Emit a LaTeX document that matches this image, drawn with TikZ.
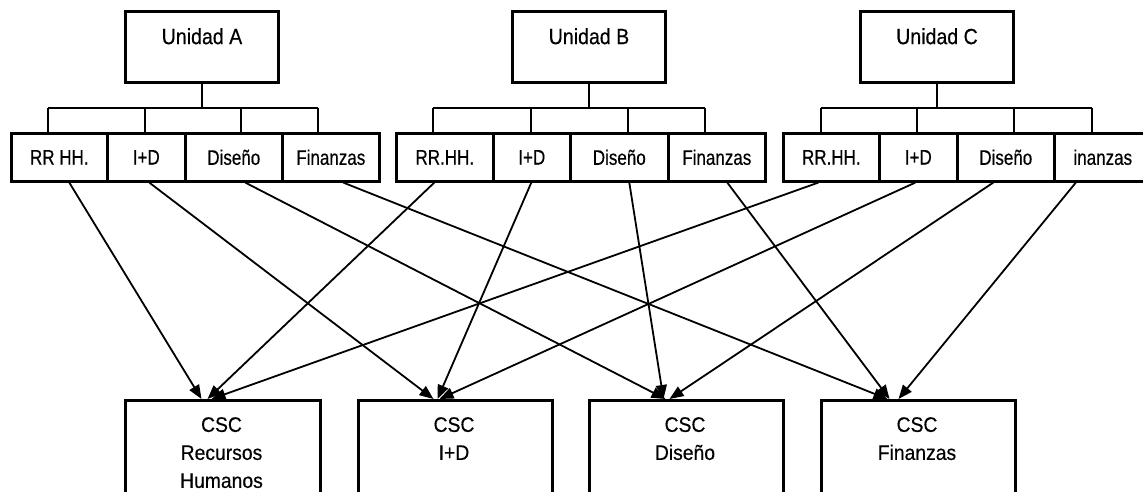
\documentclass[tikz,border=0pt]{standalone}
\usepackage{fontspec}
\setmainfont{Liberation Sans}
\newfontfamily\titlefont{Liberation Sans}[FakeStretch=0.89,FakeBold=0.4]
\newfontfamily\subfont{Liberation Sans}[FakeStretch=0.81,FakeBold=0.4]
\newfontfamily\cscfont{Liberation Sans}[FakeStretch=0.92,FakeBold=0.4]
\usetikzlibrary{arrows.meta}
\begin{document}
\begin{tikzpicture}[x=1pt,y=-1pt,
  unitbox/.style={draw, line width=3pt, minimum width=153pt, minimum height=71pt, inner sep=0},
  subbox/.style={draw, line width=2.6pt, minimum height=48pt, inner sep=0, anchor=north west,
                 font=\subfont\fontsize{21}{24}\selectfont},
  cscbox/.style={draw, line width=3pt, anchor=north west, inner sep=0, minimum height=130pt},
  lbl/.style={inner sep=0, anchor=north, align=center},
  titletext/.style={lbl, font=\titlefont\fontsize{22}{26}\selectfont},
  csctext/.style={lbl, font=\cscfont\fontsize{21}{28}\selectfont},
  tree/.style={line width=2.6pt},
  arr/.style={line width=1.8pt, -{Triangle[length=14pt,width=11pt]}}
]
\useasboundingbox (0,0) rectangle (1143,492);

% unit boxes
\node[unitbox] (uA) at (202,47.5) {};
\node[unitbox] (uB) at (589,47.5) {};
\node[unitbox] (uC) at (937,47.5) {};
\node[titletext] (tA) at (202,28) {Unidad A};
\node[titletext] (tB) at (589,28) {Unidad B};
\node[titletext] (tC) at (937,28) {Unidad C};

% sub boxes A
\node[subbox, minimum width=96pt] (a1) at (10,132) {RR HH.};
\node[subbox, minimum width=78pt] (a2) at (106,132) {I+D};
\node[subbox, minimum width=97pt] (a3) at (184,132) {Diseño};
\node[subbox, minimum width=97pt] (a4) at (281,132) {Finanzas};
% sub boxes B
\node[subbox, minimum width=97pt] (b1) at (395,132) {RR.HH.};
\node[subbox, minimum width=77pt] (b2) at (492,132) {I+D};
\node[subbox, minimum width=98pt] (b3) at (569,132) {Diseño};
\node[subbox, minimum width=97pt] (b4) at (667,132) {Finanzas};
% sub boxes C
\node[subbox, minimum width=96pt] (c1) at (782,132) {RR.HH.};
\node[subbox, minimum width=78pt] (c2) at (878,132) {I+D};
\node[subbox, minimum width=97pt] (c3) at (956,132) {Diseño};
\node[subbox, minimum width=97pt] (c4) at (1053,132) {inanzas};

% tree connectors
\coordinate (ta1) at (48,108);  \coordinate (ta2) at (145,108);
\coordinate (ta3) at (241,108); \coordinate (ta4) at (318,108);
\coordinate (tb1) at (433,108); \coordinate (tb2) at (531,108);
\coordinate (tb3) at (628,108); \coordinate (tb4) at (705,108);
\coordinate (tc1) at (821,108); \coordinate (tc2) at (917,108);
\coordinate (tc3) at (1014,108); \coordinate (tc4) at (1092,108);

\draw[tree] (uA.south) -- (uA.south |- ta1);
\draw[tree] (ta1) -- (ta4);
\draw[tree] (ta1) -- (ta1 |- a1.north);
\draw[tree] (ta2) -- (ta2 |- a2.north);
\draw[tree] (ta3) -- (ta3 |- a3.north);
\draw[tree] (ta4) -- (ta4 |- a4.north);

\draw[tree] (uB.south) -- (uB.south |- tb1);
\draw[tree] (tb1) -- (tb4);
\draw[tree] (tb1) -- (tb1 |- b1.north);
\draw[tree] (tb2) -- (tb2 |- b2.north);
\draw[tree] (tb3) -- (tb3 |- b3.north);
\draw[tree] (tb4) -- (tb4 |- b4.north);

\draw[tree] (uC.south) -- (uC.south |- tc1);
\draw[tree] (tc1) -- (tc4);
\draw[tree] (tc1) -- (tc1 |- c1.north);
\draw[tree] (tc2) -- (tc2 |- c2.north);
\draw[tree] (tc3) -- (tc3 |- c3.north);
\draw[tree] (tc4) -- (tc4 |- c4.north);

% CSC boxes
\node[cscbox, minimum width=195pt] (r1) at (124,399) {};
\node[cscbox, minimum width=194pt] (r2) at (357,399) {};
\node[cscbox, minimum width=194pt] (r3) at (588,399) {};
\node[cscbox, minimum width=194pt] (r4) at (820,399) {};
\node[csctext] (r1t) at (221.5,417) {CSC\\Recursos\\Humanos};
\node[csctext] (r2t) at (454,417) {CSC\\I+D};
\node[csctext] (r3t) at (685,417) {CSC\\Diseño};
\node[csctext] (r4t) at (917,417) {CSC\\Finanzas};

% arrows
\draw[arr] ([xshift=10pt]a1.south) -- ([xshift=-21.5pt]r1.north);
\draw[arr] ([xshift=3pt]a2.south) -- ([xshift=-22pt]r2.north);
\draw[arr] ([xshift=11.5pt]a3.south) -- ([xshift=-21pt]r3.north);
\draw[arr] ([xshift=12.5pt]a4.south) -- ([xshift=-31pt]r4.north);

\draw[arr] ([xshift=-10.5pt]b1.south) -- ([xshift=-15.5pt]r1.north);
\draw[arr] ([xshift=-0.5pt]b2.south) -- ([xshift=-18pt]r2.north);
\draw[arr] ([xshift=10pt]b3.south) -- ([xshift=-23pt]r3.north);
\draw[arr] ([xshift=10.5pt]b4.south) -- ([xshift=-29pt]r4.north);

\draw[arr] ([xshift=-13pt]c1.south) -- ([xshift=-11.5pt]r1.north);
\draw[arr] ([xshift=-3pt]c2.south) -- ([xshift=-16pt]r2.north);
\draw[arr] ([xshift=-12.5pt]c3.south) -- ([xshift=-17pt]r3.north);
\draw[arr] ([xshift=-27pt]c4.south) -- ([xshift=-20pt]r4.north);
\end{tikzpicture}
\end{document}
